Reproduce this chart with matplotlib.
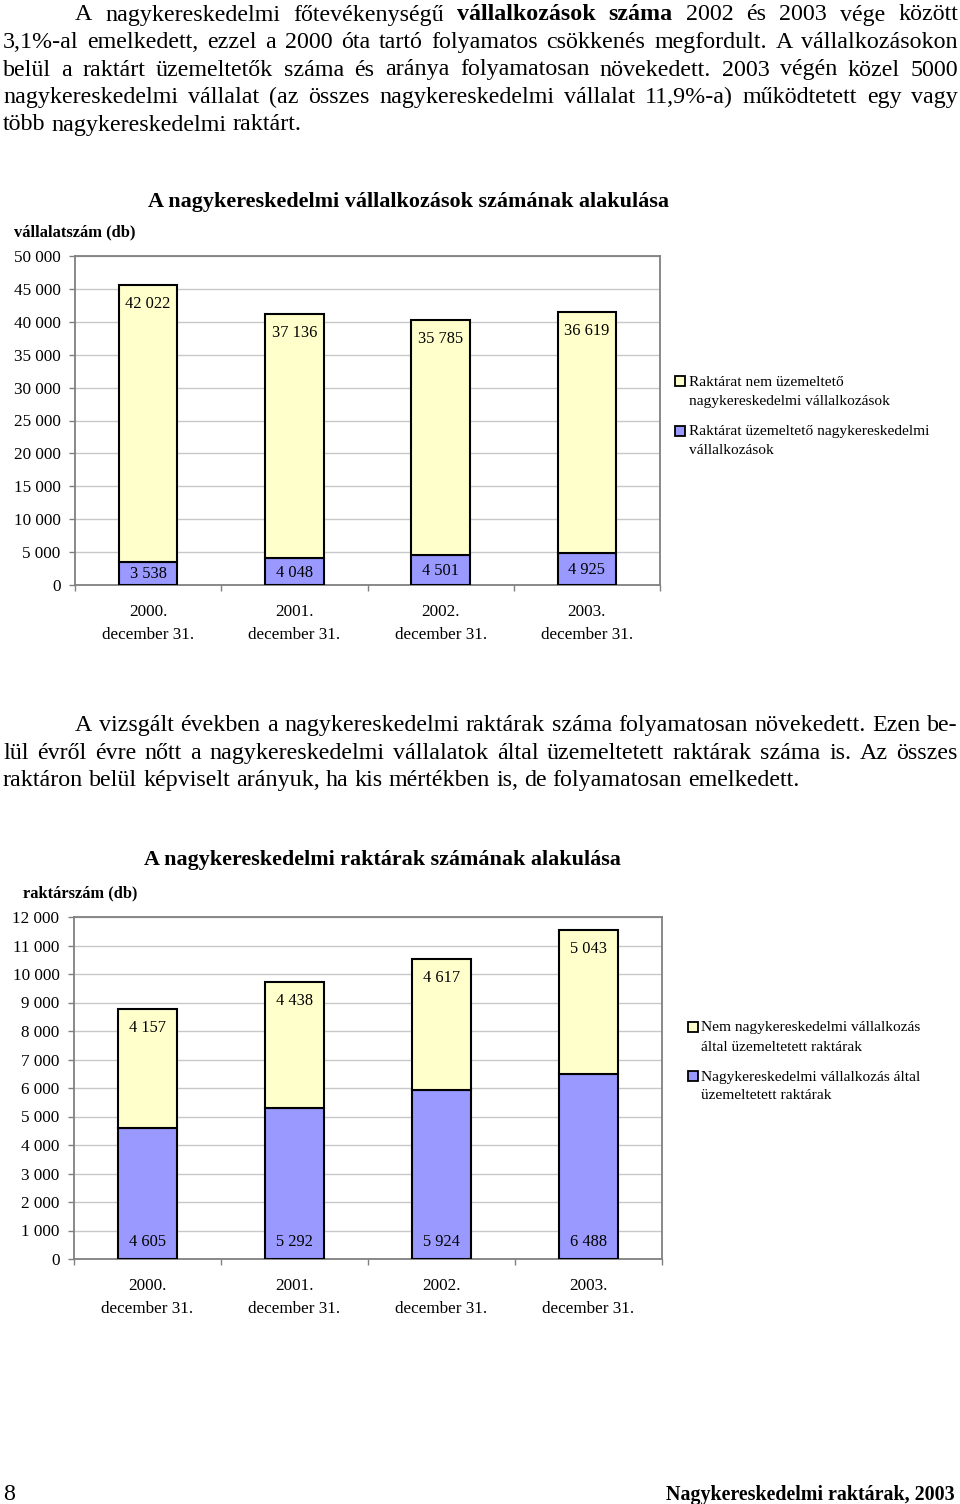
import matplotlib
matplotlib.use('Agg')
import matplotlib.pyplot as plt
from matplotlib.patches import Rectangle
import numpy as np

plt.rcParams['font.family'] = ['Liberation Serif', 'DejaVu Serif']

# ---------------- data ----------------
categories = ['2000.\ndecember 31.', '2001.\ndecember 31.',
              '2002.\ndecember 31.', '2003.\ndecember 31.']
firms_with_warehouse = [3538, 4048, 4501, 4925]
firms_without_warehouse = [42022, 37136, 35785, 36619]
wh_wholesale_firms = [4605, 5292, 5924, 6488]
wh_other_firms = [4157, 4438, 4617, 5043]

title1 = 'A nagykereskedelmi vállalkozások számának alakulása'
ylabel1 = 'vállalatszám (db)'
legend1 = [['Raktárat nem üzemeltető', 'nagykereskedelmi vállalkozások'],
           ['Raktárat üzemeltető nagykereskedelmi', 'vállalkozások']]
title2 = 'A nagykereskedelmi raktárak számának alakulása'
ylabel2 = 'raktárszám (db)'
legend2 = [['Nem nagykereskedelmi vállalkozás', 'által üzemeltetett raktárak'],
           ['Nagykereskedelmi vállalkozás által', 'üzemeltetett raktárak']]

para1 = [
    ('A nagykereskedelmi főtevékenységű **vállalkozások** **száma** 2002 és 2003 vége között', True),
    ('3,1%-al emelkedett, ezzel a 2000 óta tartó folyamatos csökkenés megfordult. A vállalkozásokon', True),
    ('belül a raktárt üzemeltetők száma és aránya folyamatosan növekedett. 2003 végén közel 5000', True),
    ('nagykereskedelmi vállalat (az összes nagykereskedelmi vállalat 11,9%-a) működtetett egy vagy', True),
    ('több nagykereskedelmi raktárt.', False),
]
para2 = [
    ('A vizsgált években a nagykereskedelmi raktárak száma folyamatosan növekedett. Ezen be-', True),
    ('lül évről évre nőtt a nagykereskedelmi vállalatok által üzemeltetett raktárak száma is. Az összes', True),
    ('raktáron belül képviselt arányuk, ha kis mértékben is, de folyamatosan emelkedett.', False),
]
footer_left = '8'
footer_right = 'Nagykereskedelmi raktárak, 2003'

YELLOW = '#FFFFCC'
BLUE = '#9999FF'
GRID = '#C8C8C8'
FRAME = '#808080'

W, H = 960, 1504
fig = plt.figure(figsize=(W / 100, H / 100), dpi=100)
renderer = fig.canvas.get_renderer()


def fx(x):
    return x / W


def fy(y):
    return 1 - y / H


def text_width(s, size, weight='normal'):
    t = fig.text(0, 0, s, fontsize=size, fontweight=weight)
    w = t.get_window_extent(renderer).width
    t.remove()
    return w


def fit_size(s, target, weight='normal'):
    return 10 * target / text_width(s, 10, weight)


def parse(line):
    out = []
    for w in line.split(' '):
        if w.startswith('**') and w.endswith('**'):
            out.append((w[2:-2], True))
        else:
            out.append((w, False))
    return out


def draw_line(line, x0, x1, base, size, justify):
    words = parse(line)
    widths = [text_width(w, size, 'bold' if b else 'normal') for w, b in words]
    space = text_width('a a', size) - text_width('aa', size)
    if justify and len(words) > 1:
        gap = (x1 - x0 - sum(widths)) / (len(words) - 1)
    else:
        gap = space
    x = x0
    for (w, b), wd in zip(words, widths):
        fig.text(fx(x), fy(base), w, fontsize=size,
                 fontweight='bold' if b else 'normal', ha='left', va='baseline')
        x += wd + gap


# paragraph font size fitted from the unjustified final line of paragraph 2
psize = fit_size(para2[2][0], 795)

p1_bases = [20.5, 48, 75.5, 103, 130.5]
for i, (line, just) in enumerate(para1):
    draw_line(line, 75 if i == 0 else 3, 958, p1_bases[i], psize, just)

p2_bases = [731, 758.5, 786]
for i, (line, just) in enumerate(para2):
    draw_line(line, 75 if i == 0 else 3, 958, p2_bases[i], psize, just)

# footer
fsize = fit_size(footer_right, 290, 'bold')
fig.text(fx(3), fy(1500), footer_left, fontsize=psize, ha='left', va='baseline')
fig.text(fx(955), fy(1500), footer_right, fontsize=fsize, fontweight='bold',
         ha='right', va='baseline')


def fmt(v):
    return f'{int(v):,}'.replace(',', ' ')


def px2pt(p):
    return p * 0.72


def make_chart(box, bottom_vals, top_vals, ymax, ystep, bottom_label_mode):
    l, t, r, b = box
    ax = fig.add_axes([fx(l), fy(b), (r - l) / W, (b - t) / H])
    x = np.arange(len(categories))
    ax.bar(x, bottom_vals, width=0.4, color=BLUE, edgecolor='black',
           linewidth=1.5, zorder=3)
    totals = np.array(bottom_vals) + np.array(top_vals)
    ax.bar(x, top_vals, bottom=bottom_vals, width=0.4, color=YELLOW,
           edgecolor='black', linewidth=1.5, zorder=3)
    ax.set_xlim(-0.5, len(categories) - 0.5)
    ax.set_ylim(0, ymax)
    yt = np.arange(0, ymax + 1, ystep)
    ax.set_yticks(yt)
    ax.set_yticklabels([fmt(v) for v in yt], fontsize=12.3)
    ax.yaxis.grid(True, color=GRID, linewidth=1.0, zorder=0)
    ax.set_axisbelow(True)
    for sp in ax.spines.values():
        sp.set_color(FRAME)
        sp.set_linewidth(1.3)
    ax.tick_params(axis='y', length=4, width=1.0, color=FRAME, pad=6.5)
    ax.set_xticks(x)
    ax.set_xticklabels(categories, fontsize=12.3, linespacing=1.55)
    ax.set_xticks(np.arange(-0.5, len(categories), 1.0), minor=True)
    ax.tick_params(axis='x', which='major', length=0, pad=14)
    ax.tick_params(axis='x', which='minor', length=4, width=1.0, color=FRAME)
    for i in range(len(categories)):
        ax.annotate(fmt(top_vals[i]), xy=(x[i], totals[i]),
                    xytext=(0, -px2pt(19)), textcoords='offset points',
                    ha='center', va='center', fontsize=11.8, zorder=5)
        if bottom_label_mode == 'center':
            ax.annotate(fmt(bottom_vals[i]), xy=(x[i], bottom_vals[i] / 2),
                        xytext=(0, -px2pt(1)), textcoords='offset points',
                        ha='center', va='center', fontsize=11.8, zorder=5)
        else:
            ax.annotate(fmt(bottom_vals[i]), xy=(x[i], 0),
                        xytext=(0, px2pt(16.5)), textcoords='offset points',
                        ha='center', va='center', fontsize=11.8, zorder=5)
    return ax


def legend(x_sq, x_txt, entries, colors, bases, size):
    for lines, col, bs in zip(entries, colors, bases):
        sq_y = bs[0] - 4.5
        fig.patches.append(Rectangle((fx(x_sq), fy(sq_y + 5)), 10 / W, 10 / H,
                                     transform=fig.transFigure, facecolor=col,
                                     edgecolor='black', linewidth=1.3))
        for ln, bl in zip(lines, bs):
            fig.text(fx(x_txt), fy(bl), ln, fontsize=size, ha='left', va='baseline')


# ---------------- chart 1 ----------------
make_chart((75, 256, 660, 585), firms_with_warehouse, firms_without_warehouse,
           50000, 5000, 'center')
ts1 = fit_size(title1, 523, 'bold')
fig.text(fx(408.5), fy(206.5), title1, fontsize=ts1, fontweight='bold',
         ha='center', va='baseline')
fig.text(fx(14), fy(236.5), ylabel1, fontsize=fit_size(ylabel1, 122, 'bold'),
         fontweight='bold', ha='left', va='baseline')
lsize = fit_size(legend1[1][0], 240)
legend(675, 689, legend1, [YELLOW, BLUE], [(385.5, 404.5), (435.5, 454)], lsize)

# ---------------- chart 2 ----------------
make_chart((74, 917, 662, 1259), wh_wholesale_firms, wh_other_firms,
           12000, 1000, 'bottom')
ts2 = fit_size(title2, 478, 'bold')
fig.text(fx(382), fy(865), title2, fontsize=ts2, fontweight='bold',
         ha='center', va='baseline')
fig.text(fx(23), fy(897.5), ylabel2, fontsize=fit_size(ylabel2, 115, 'bold'),
         fontweight='bold', ha='left', va='baseline')
legend(688, 701, legend2, [YELLOW, BLUE], [(1031.5, 1051), (1080.5, 1099)], lsize)

fig.savefig('out.png', dpi=100)
